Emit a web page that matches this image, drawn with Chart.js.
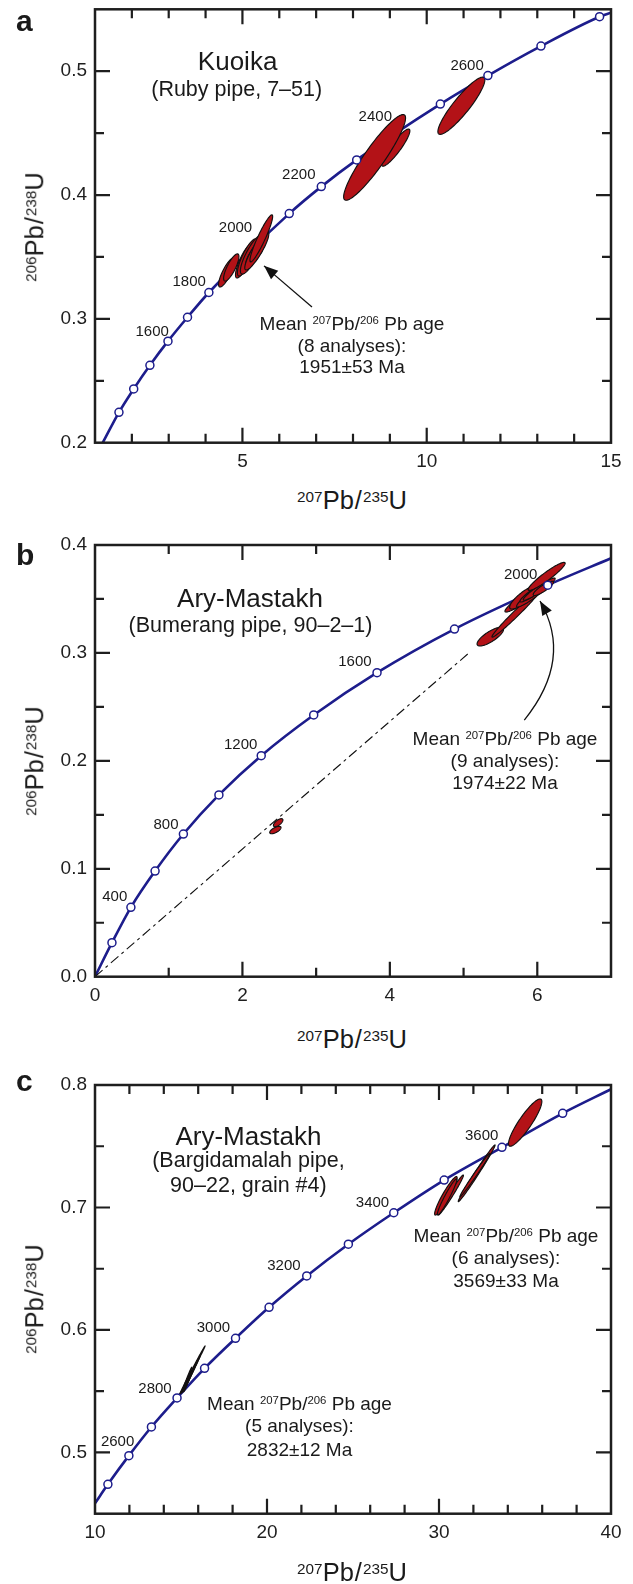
<!DOCTYPE html>
<html><head><meta charset="utf-8"><title>Concordia diagrams</title>
<script src="https://cdn.jsdelivr.net/npm/chart.js@4.4.1/dist/chart.umd.min.js"></script>
<style>
html,body{margin:0;padding:0;background:#fff}
body{position:relative;width:633px;height:1584px;overflow:hidden;font-family:"Liberation Sans",Arial,Helvetica,sans-serif;color:#1a1a1a}
canvas{position:absolute;left:0}
.t{position:absolute;white-space:nowrap;z-index:2}
.s{font-size:0.6em;vertical-align:0.5em;line-height:0}
</style></head><body>
<canvas id="ca" width="633" height="500"></canvas>
<canvas id="cb" width="633" height="500"></canvas>
<canvas id="cc" width="633" height="500"></canvas>
<script>
// ================= DATA =================
// ---- Panel a (Kuoika) ----
const aAgeX = [1.65, 2.05, 2.49, 2.98, 3.51, 4.09, 6.27, 7.14, 8.10, 10.37, 11.66, 13.10, 14.69];
const aAgeY = [0.2245, 0.2434, 0.2625, 0.2820, 0.3013, 0.3213, 0.3850, 0.4068, 0.4284, 0.4735, 0.4965, 0.5203, 0.5440];
const aEndX = [1.21, 15.0];
const aEndY = [0.200, 0.5473];
const aEllX   = [9.16, 8.586, 10.94, 4.574, 4.697, 5.05, 5.131, 5.254, 5.35, 5.39, 5.512];
const aEllY   = [0.4383, 0.4304, 0.4721, 0.3375, 0.3415, 0.3468, 0.3496, 0.3520, 0.3532, 0.3549, 0.3650];
const aEllSX  = [0.383, 0.840, 0.637, 0.221, 0.208, 0.238, 0.268, 0.310, 0.260, 0.326, 0.308];
const aEllSY  = [0.0150, 0.0346, 0.0231, 0.01177, 0.01098, 0.0138, 0.0150, 0.0158, 0.0107, 0.0154, 0.0190];
const aEllRho = [0.903, 0.919, 0.902, 0.82, 0.80, 0.82, 0.82, 0.83, 0.82, 0.88, 0.93];
const aXTicks = [5, 10, 15];
const aXMinor = [2, 3, 4, 6, 7, 8, 9, 11, 12, 13, 14];
const aYTicks = [0.2, 0.3, 0.4, 0.5];
const aYMinor = [0.25, 0.35, 0.45];
const aAgeLabels = ['1600', '1800', '2000', '2200', '2400', '2600'];

// ---- Panel b (Ary-Mastakh, Bumerang pipe) ----
const bAgeX = [0.23, 0.487, 0.815, 1.199, 1.681, 2.255, 2.967, 3.826, 4.877, 6.142];
const bAgeY = [0.0315, 0.0643, 0.0979, 0.1322, 0.1684, 0.2048, 0.2425, 0.2817, 0.3221, 0.3628];
const bEndX = [0, 7.0];
const bEndY = [0, 0.3877];
const bDiscX = [0, 5.09];
const bDiscY = [0, 0.301];
const bEllX   = [5.363, 5.712, 5.823, 5.811, 5.947, 5.947, 6.026, 6.082, 6.127, 2.447, 2.485];
const bEllY   = [0.3151, 0.3365, 0.3506, 0.3513, 0.3544, 0.3560, 0.3591, 0.3598, 0.3709, 0.1359, 0.1427];
const bEllSX  = [0.180, 0.327, 0.2617, 0.186, 0.2277, 0.1826, 0.2163, 0.1376, 0.251, 0.0764, 0.0644];
const bEllSY  = [0.00866, 0.02186, 0.01274, 0.01064, 0.01187, 0.00882, 0.01031, 0.00658, 0.01299, 0.00345, 0.00372];
const bEllRho = [0.781, 0.985, 0.936, 0.838, 0.939, 0.926, 0.945, 0.865, 0.937, 0.66, 0.665];
const bXTicks = [0, 2, 4, 6];
const bXMinor = [1, 3, 5];
const bYTicks = [0.0, 0.1, 0.2, 0.3, 0.4];
const bYMinor = [0.05, 0.15, 0.25, 0.35];
const bAgeLabels = ['400', '800', '1200', '1600', '2000'];

// ---- Panel c (Ary-Mastakh, Bargidamalah pipe) ----
const cAgeX = [10.75, 11.97, 13.28, 14.77, 16.37, 18.17, 20.12, 22.31, 24.73, 27.37, 30.30, 33.66, 37.19];
const cAgeY = [0.4740, 0.4974, 0.5208, 0.5445, 0.5687, 0.5932, 0.6185, 0.6441, 0.6700, 0.6957, 0.7224, 0.7491, 0.7769];
const cEndX = [10.0, 40.0];
const cEndY = [0.4585, 0.7965];
const cEllX   = [30.40, 30.69, 30.47, 32.19, 32.09, 35.01, 15.65, 15.33, 15.44, 15.52, 15.70];
const cEllY   = [0.7095, 0.7102, 0.7086, 0.7279, 0.7265, 0.7693, 0.5669, 0.5590, 0.5592, 0.5616, 0.5669];
const cEllSX  = [0.655, 0.733, 0.567, 1.071, 0.875, 0.970, 0.749, 0.296, 0.276, 0.41, 0.41];
const cEllSY  = [0.0157, 0.01635, 0.01473, 0.02316, 0.01773, 0.01928, 0.0200, 0.01062, 0.00955, 0.01225, 0.0119];
const cEllRho = [0.934, 0.983, 0.957, 0.9917, 0.992, 0.892, 0.998, 0.992, 0.992, 0.996, 0.996];
const cXTicks = [10, 20, 30, 40];
const cXMinor = [12, 14, 16, 18, 22, 24, 26, 28, 32, 34, 36, 38];
const cYTicks = [0.5, 0.6, 0.7, 0.8];
const cYMinor = [0.55, 0.65, 0.75];
const cAgeLabels = ['2600', '2800', '3000', '3200', '3400', '3600'];

// ================= STYLE =================
const FONT = '"Liberation Sans", Arial, Helvetica, sans-serif';
const NAVY = '#1d1d8c';
const RED = '#b31217';
const INK = '#1e1e1e';

function curvePts(ex, ey, ax, ay) {
  const p = [{x: ex[0], y: ey[0]}];
  ax.forEach((v, i) => p.push({x: v, y: ay[i]}));
  p.push({x: ex[1], y: ey[1]});
  return p;
}
function pts(xs, ys) { return xs.map((v, i) => ({x: v, y: ys[i]})); }

function ellipsePath(ctx, xs, ys, cx, cy, sx, sy, r) {
  const q = Math.sqrt(Math.max(0, 1 - r * r));
  ctx.beginPath();
  const N = 120;
  for (let i = 0; i <= N; i++) {
    const t = i / N * 2 * Math.PI;
    const X = xs.getPixelForValue(cx + sx * Math.cos(t));
    const Y = ys.getPixelForValue(cy + sy * (r * Math.cos(t) + q * Math.sin(t)));
    if (i) ctx.lineTo(X, Y); else ctx.moveTo(X, Y);
  }
  ctx.closePath();
}
function arrowHead(ctx, tx, ty, dx, dy, len, half) {
  const L = Math.hypot(dx, dy), ux = dx / L, uy = dy / L;
  const bx = tx - ux * len, by = ty - uy * len;
  ctx.beginPath();
  ctx.moveTo(tx, ty);
  ctx.lineTo(bx - uy * half, by + ux * half);
  ctx.lineTo(bx + uy * half, by - ux * half);
  ctx.closePath();
  ctx.fill();
}

const framePlugin = {
  id: 'frame',
  afterDatasetDraw(chart, args, opts) {
    if (args.index !== opts.curveIndex) return;
    const ctx = chart.ctx, xs = chart.scales.x, ys = chart.scales.y, e = opts.ell;
    const a = chart.chartArea;
    ctx.save();
    ctx.beginPath(); ctx.rect(a.left, a.top, a.right - a.left, a.bottom - a.top); ctx.clip();
    ctx.fillStyle = RED; ctx.strokeStyle = '#111'; ctx.lineWidth = 1.15;
    for (let i = 0; i < e.x.length; i++) {
      ellipsePath(ctx, xs, ys, e.x[i], e.y[i], e.sx[i], e.sy[i], e.r[i]);
      ctx.fill(); ctx.stroke();
    }
    ctx.restore();
  },
  afterDraw(chart, args, opts) {
    const ctx = chart.ctx, xs = chart.scales.x, ys = chart.scales.y, a = chart.chartArea;
    ctx.save();
    ctx.strokeStyle = INK; ctx.lineCap = 'butt';
    ctx.lineWidth = 2.2;
    const tick = (vals, len) => {
      vals.forEach(v => {
        if (v <= xs.min || v >= xs.max) return;
        const p = xs.getPixelForValue(v);
        ctx.beginPath();
        ctx.moveTo(p, a.bottom); ctx.lineTo(p, a.bottom - len);
        ctx.moveTo(p, a.top); ctx.lineTo(p, a.top + len);
        ctx.stroke();
      });
    };
    const tickY = (vals, len) => {
      vals.forEach(v => {
        if (v <= ys.min + 1e-9 || v >= ys.max - 1e-9) return;
        const p = ys.getPixelForValue(v);
        ctx.beginPath();
        ctx.moveTo(a.left, p); ctx.lineTo(a.left + len, p);
        ctx.moveTo(a.right, p); ctx.lineTo(a.right - len, p);
        ctx.stroke();
      });
    };
    tick(opts.xMajor, 15); tick(opts.xMinor, 9);
    tickY(opts.yMajor, 15); tickY(opts.yMinor, 9);
    ctx.lineWidth = 2.5;
    ctx.strokeRect(a.left, a.top, a.right - a.left, a.bottom - a.top);
    // arrow
    const ar = opts.arrow;
    if (ar) {
      ctx.strokeStyle = '#111'; ctx.fillStyle = '#111'; ctx.lineWidth = 1.3;
      const P = q => [xs.getPixelForValue(q[0]), ys.getPixelForValue(q[1])];
      const f = P(ar.from), t = P(ar.to);
      ctx.beginPath(); ctx.moveTo(f[0], f[1]);
      let dx, dy;
      if (ar.ctrl) {
        const c = P(ar.ctrl);
        ctx.quadraticCurveTo(c[0], c[1], t[0], t[1]);
        dx = t[0] - c[0]; dy = t[1] - c[1];
      } else {
        ctx.lineTo(t[0], t[1]);
        dx = t[0] - f[0]; dy = t[1] - f[1];
      }
      ctx.stroke();
      arrowHead(ctx, t[0], t[1], dx, dy, 14, 5.5);
    }
    ctx.restore();
  }
};

function makePanel(p) {
  const cv = document.getElementById(p.id);
  cv.style.top = p.top + 'px';
  cv.style.width = '633px'; cv.style.height = p.h + 'px';
  cv.width = 633; cv.height = p.h;
  const datasets = [
    {label: 'ages', data: pts(p.ageX, p.ageY), showLine: false, pointRadius: 4,
     pointBackgroundColor: '#fff', pointBorderColor: NAVY, pointBorderWidth: 1.5, order: 1},
    {label: 'concordia', data: curvePts(p.endX, p.endY, p.ageX, p.ageY), showLine: true,
     pointRadius: 0, borderColor: NAVY, borderWidth: 2.6, cubicInterpolationMode: 'monotone', order: 3}
  ];
  if (p.disc) {
    datasets.push({label: 'discordia', data: pts(p.disc.x, p.disc.y), showLine: true, pointRadius: 0,
      borderColor: '#111', borderWidth: 1.1, borderDash: [10, 4, 3, 4], order: 2});
  }
  const tickFont = {family: FONT, size: 19};
  new Chart(cv, {
    type: 'scatter',
    data: {datasets},
    plugins: [framePlugin],
    options: {
      responsive: false, animation: false, devicePixelRatio: 1,
      layout: {padding: {left: 0, right: 22, top: p.padTop, bottom: 0}},
      plugins: {
        legend: {display: false}, tooltip: {enabled: false},
        frame: {curveIndex: 1, ell: p.ell, xMajor: p.xTicks, xMinor: p.xMinor,
                yMajor: p.yTicks, yMinor: p.yMinor, arrow: p.arrow}
      },
      scales: {
        x: {type: 'linear', position: 'bottom', min: p.xmin, max: p.xmax,
            grid: {display: false, drawTicks: false}, border: {display: false},
            afterBuildTicks: s => { s.ticks = p.xTicks.map(v => ({value: v})); },
            afterFit: s => { s.height = p.xAxisH; },
            ticks: {font: tickFont, color: INK, padding: 8, maxRotation: 0, autoSkip: false,
                    callback: v => String(v)}},
        y: {type: 'linear', position: 'left', min: p.ymin, max: p.ymax,
            grid: {display: false, drawTicks: false}, border: {display: false},
            afterBuildTicks: s => { s.ticks = p.yTicks.map(v => ({value: v})); },
            afterFit: s => { s.width = 95; },
            ticks: {font: tickFont, color: INK, padding: 8, autoSkip: false,
                    callback: v => Number(v).toFixed(1)}}
      }
    }
  });
}

makePanel({id: 'ca', top: -15, h: 500, padTop: 24.3, xAxisH: 42.3, xmin: 1, xmax: 15, ymin: 0.2, ymax: 0.55,
  ageX: aAgeX, ageY: aAgeY, endX: aEndX, endY: aEndY,
  ell: {x: aEllX, y: aEllY, sx: aEllSX, sy: aEllSY, r: aEllRho},
  xTicks: aXTicks, xMinor: aXMinor, yTicks: aYTicks, yMinor: aYMinor,
  arrow: {from: [6.887, 0.3096], to: [5.585, 0.3428]}});
makePanel({id: 'cb', top: 520, h: 500, padTop: 25, xAxisH: 43.3, xmin: 0, xmax: 7, ymin: 0, ymax: 0.4,
  ageX: bAgeX, ageY: bAgeY, endX: bEndX, endY: bEndY, disc: {x: bDiscX, y: bDiscY},
  ell: {x: bEllX, y: bEllY, sx: bEllSX, sy: bEllSY, r: bEllRho},
  xTicks: bXTicks, xMinor: bXMinor, yTicks: bYTicks, yMinor: bYMinor,
  arrow: {from: [5.824, 0.2378], ctrl: [6.492, 0.2944], to: [6.037, 0.3481]}});
makePanel({id: 'cc', top: 1060, h: 500, padTop: 25, xAxisH: 46.3, xmin: 10, xmax: 40, ymin: 0.45, ymax: 0.8,
  ageX: cAgeX, ageY: cAgeY, endX: cEndX, endY: cEndY,
  ell: {x: cEllX, y: cEllY, sx: cEllSX, sy: cEllSY, r: cEllRho},
  xTicks: cXTicks, xMinor: cXMinor, yTicks: cYTicks, yMinor: cYMinor,
  arrow: null});

// ================= TEXT =================
function addText(html, cx, base, size, o) {
  o = o || {};
  const d = document.createElement('div');
  d.className = 't';
  d.innerHTML = html;
  d.style.fontSize = size + 'px';
  d.style.lineHeight = size + 'px';
  if (o.bold) d.style.fontWeight = 'bold';
  if (o.rot) {
    d.style.left = (cx - 0.3465 * size) + 'px';
    d.style.top = base + 'px';
    d.style.transform = 'translate(-50%,-50%) rotate(-90deg)';
  } else {
    d.style.top = (base - 0.8465 * size) + 'px';
    d.style.left = cx + 'px';
    if (!o.left) d.style.transform = 'translateX(-50%)';
  }
  document.body.appendChild(d);
}
const MEAN = 'Mean <span class="s">207</span>Pb/<span class="s">206</span> Pb age';
const XT = '<span class="s" style="vertical-align:0.45em">207</span>Pb<span style="margin:0 1px">/</span><span class="s" style="vertical-align:0.45em">235</span>U';
const YT = '<span class="s" style="vertical-align:0.45em">206</span>Pb<span style="margin:0 1px">/</span><span class="s" style="vertical-align:0.45em">238</span>U';

// panel letters
addText('a', 16, 31.7, 30, {bold: true, left: true});
addText('b', 16, 565, 30, {bold: true, left: true});
addText('c', 16, 1091.7, 30, {bold: true, left: true});

// axis titles
addText(XT, 352, 510, 25.5);
addText(XT, 352, 1048.3, 25.5);
addText(XT, 352, 1581.6, 25.5);
addText(YT, 44.3, 227, 25.5, {rot: true});
addText(YT, 44.3, 761, 25.5, {rot: true});
addText(YT, 44.3, 1299, 25.5, {rot: true});

// locality titles
addText('Kuoika', 237.6, 70, 26);
addText('(Ruby pipe, 7–51)', 236.7, 96.7, 21.5);
addText('Ary-Mastakh', 250, 607.3, 26);
addText('(Bumerang pipe, 90–2–1)', 250.5, 633.3, 21.5);
addText('Ary-Mastakh', 248.4, 1145, 26);
addText('(Bargidamalah pipe,', 248.4, 1168.3, 21.5);
addText('90–22, grain #4)', 248.4, 1193.3, 21.5);

// mean-age annotations
addText(MEAN, 352, 330, 19); addText('(8 analyses):', 352, 351.7, 19); addText('1951±53 Ma', 352, 373.3, 19);
addText(MEAN, 505, 745, 19); addText('(9 analyses):', 505, 766.7, 19); addText('1974±22 Ma', 505, 789.3, 19);
addText(MEAN, 506, 1242.3, 19); addText('(6 analyses):', 506, 1264, 19); addText('3569±33 Ma', 506, 1286.7, 19);
addText(MEAN, 299.5, 1410, 19); addText('(5 analyses):', 299.5, 1431.7, 19); addText('2832±12 Ma', 299.5, 1456, 19);

// age labels along concordia
const agePos = [
  [152.2, 330], [189.2, 280], [235.5, 226.7], [298.8, 173.3], [375.3, 115], [467.1, 64],
  [114.8, 895], [166, 823.3], [240.7, 743.3], [354.9, 660.7], [520.7, 573.3],
  [117.6, 1440.7], [155, 1387.3], [213.4, 1326.7], [283.9, 1264], [372.5, 1201.7], [481.7, 1134.3]
];
const allAgeLabels = aAgeLabels.concat(bAgeLabels, cAgeLabels);
allAgeLabels.forEach((s, i) => addText(s, agePos[i][0], agePos[i][1] + 5.4, 15));
</script></body></html>
